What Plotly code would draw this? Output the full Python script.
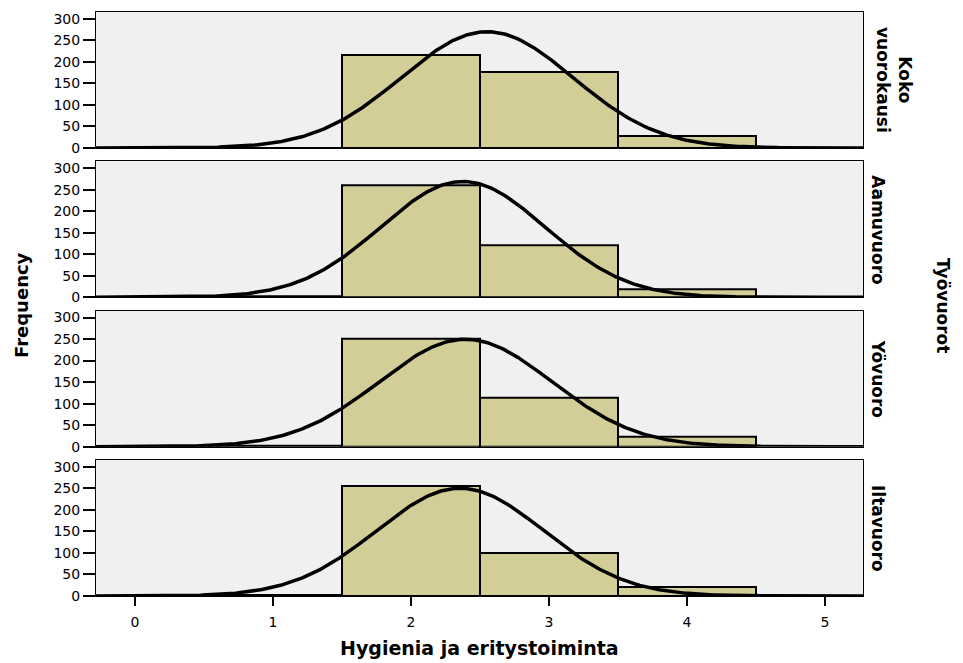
import numpy as np
import plotly.graph_objects as go

# Score bins (bin centres, width 1) and frequency per shift
bins = [0, 1, 2, 3, 4]
shifts = ["Koko<br>vuorokausi", "Aamuvuoro", "Yövuoro", "Iltavuoro"]
koko = [0, 1, 215, 177, 28]
aamu = [1, 3, 260, 120, 18]
yo = [1, 3, 250, 113, 23]
ilta = [1, 3, 256, 100, 20]
counts = [koko, aamu, yo, ilta]
y_ticks = [0, 50, 100, 150, 200, 250, 300]
x_ticks = [0, 1, 2, 3, 4, 5]

BAR = "rgb(211,206,151)"
BG = "rgb(240,240,240)"
FONT = "DejaVu Sans, Arial, sans-serif"

W, H = 963, 663
left, right, top, bottom = 96, 863, 12, 596
panel_h = 136
gap = (bottom - top - 4 * panel_h) / 3

fig = go.Figure()
xs = np.linspace(-0.3, 5.3, 400)

for i, c in enumerate(counts):
    n = i + 1
    xa = "x" if n == 1 else f"x{n}"
    ya = "y" if n == 1 else f"y{n}"
    c = np.array(c, dtype=float)
    b = np.array(bins, dtype=float)
    N = c.sum()
    mean = (c * b).sum() / N
    sd = np.sqrt((c * (b - mean) ** 2).sum() / (N - 1))
    # normal curve scaled to the histogram (bin width 1)
    curve = N / (sd * np.sqrt(2 * np.pi)) * np.exp(-0.5 * ((xs - mean) / sd) ** 2)

    fig.add_trace(go.Bar(x=bins, y=c, width=1, xaxis=xa, yaxis=ya,
                         marker=dict(color=BAR, line=dict(color="black", width=2)),
                         showlegend=False, hoverinfo="skip"))
    fig.add_trace(go.Scatter(x=xs, y=curve, mode="lines", xaxis=xa, yaxis=ya,
                             line=dict(color="black", width=3.5),
                             showlegend=False, hoverinfo="skip"))

    y1 = top + i * (panel_h + gap)
    y2 = y1 + panel_h
    dom = [1 - y2 / H, 1 - y1 / H]
    last = n == 4
    fig.update_layout(**{
        ("xaxis" if n == 1 else f"xaxis{n}"): dict(
            domain=[left / W, right / W], range=[-0.283, 5.275],
            anchor=ya, showline=True, mirror=True, linecolor="black", linewidth=1,
            tickvals=x_ticks, showticklabels=last,
            ticks="outside" if last else "", ticklen=9, tickwidth=2, tickcolor="black",
            ticklabelstandoff=4,
            showgrid=False, zeroline=False, automargin=False,
            tickfont=dict(family=FONT, size=14, color="black"),
            matches=None if n == 1 else "x"),
        ("yaxis" if n == 1 else f"yaxis{n}"): dict(
            domain=dom, range=[0, 316], anchor=xa,
            showline=True, mirror=True, linecolor="black", linewidth=1,
            tickvals=y_ticks, ticks="outside", ticklen=12, tickwidth=2, tickcolor="black",
            showgrid=False, zeroline=False, automargin=False,
            tickfont=dict(family=FONT, size=14, color="black")),
    })
    cx = 894 if i == 0 else 878
    fig.add_annotation(text=f"<b>{shifts[i]}</b>", x=cx / W, y=1 - (y1 + panel_h / 2) / H,
                       xref="paper", yref="paper", showarrow=False, textangle=90,
                       font=dict(family=FONT, size=17, color="black"),
                       xanchor="center", yanchor="middle")

fig.add_annotation(text="<b>Frequency</b>", x=22 / W, y=1 - 305 / H, xref="paper", yref="paper",
                   showarrow=False, textangle=-90, xanchor="center", yanchor="middle",
                   font=dict(family=FONT, size=18, color="black"))
fig.add_annotation(text="<b>Työvuorot</b>", x=943 / W, y=1 - 305 / H, xref="paper", yref="paper",
                   showarrow=False, textangle=90, xanchor="center", yanchor="middle",
                   font=dict(family=FONT, size=17, color="black"))
fig.add_annotation(text="<b>Hygienia ja eritystoiminta</b>", x=((left + right) / 2) / W, y=1 - 648 / H,
                   xref="paper", yref="paper", showarrow=False, xanchor="center", yanchor="middle",
                   font=dict(family=FONT, size=19, color="black"))

fig.update_layout(width=W, height=H, margin=dict(l=0, r=0, t=0, b=0),
                  paper_bgcolor="white", plot_bgcolor=BG, bargap=0)
fig.write_html("out.html")
